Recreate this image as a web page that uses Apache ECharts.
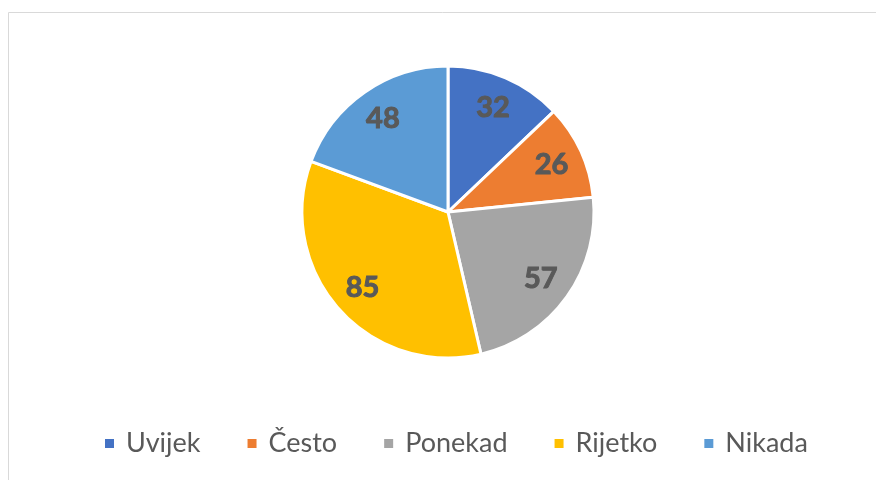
<!DOCTYPE html>
<html>
<head>
<meta charset="utf-8">
<script src="https://cdn.jsdelivr.net/npm/echarts@6/dist/echarts.min.js"></script>
<style>
  html, body { margin: 0; padding: 0; background: #fff; }
  #chart { width: 876px; height: 480px; }
</style>
</head>
<body>
<div id="chart"></div>
<script>
// podaci s grafa
const categories = ['Uvijek', 'Često', 'Ponekad', 'Rijetko', 'Nikada']
const values = [32, 26, 57, 85, 48]
const colors = ['#4472C4', '#ED7D31', '#A5A5A5', '#FFC000', '#5B9BD5']

const chart = echarts.init(document.getElementById('chart'))

const pieData = categories.map((name, i) => ({
  name: name,
  value: values[i],
  itemStyle: { color: colors[i] }
}))

const option = {
  animation: false,
  // svijetlosivi okvir oko grafa (desni i donji rub izvan slike)
  graphic: [{
    type: 'rect',
    shape: { x: 8.5, y: 12.5, width: 900, height: 500 },
    style: { fill: 'none', stroke: '#D9D9D9', lineWidth: 1 },
    silent: true,
    z: -1
  }],
  legend: {
    data: categories,
    left: 103,
    top: 430,
    padding: 0,
    icon: 'rect',
    itemWidth: 11,
    itemHeight: 11,
    itemGap: 45,
    textStyle: {
      fontFamily: 'Lato',
      fontSize: 27,
      color: '#595959',
      padding: [0, 0, 0, 6]
    }
  },
  series: [
    {
      name: 'pie',
      type: 'pie',
      center: [448, 212],
      radius: [0, 146],
      startAngle: 90,
      clockwise: true,
      data: pieData,
      itemStyle: { borderColor: '#fff', borderWidth: 3 },
      label: { show: false },
      labelLine: { show: false },
      emphasis: { disabled: true }
    },
    {
      // samo oznake vrijednosti, malo dalje od sredine (kao u Excelu)
      name: 'labels',
      type: 'pie',
      center: [448, 212],
      radius: [78, 144],
      startAngle: 90,
      clockwise: true,
      silent: true,
      data: categories.map((name, i) => ({ name: name, value: values[i] })),
      itemStyle: { color: 'transparent', borderWidth: 0 },
      label: {
        show: true,
        position: 'inside',
        formatter: '{c}',
        fontFamily: 'Lato',
        fontWeight: 'bold',
        fontSize: 29,
        color: '#595959',
        textBorderColor: '#595959',
        textBorderWidth: 1
      },
      labelLine: { show: false },
      emphasis: { disabled: true }
    }
  ]
}

chart.setOption(option)
</script>
</body>
</html>
